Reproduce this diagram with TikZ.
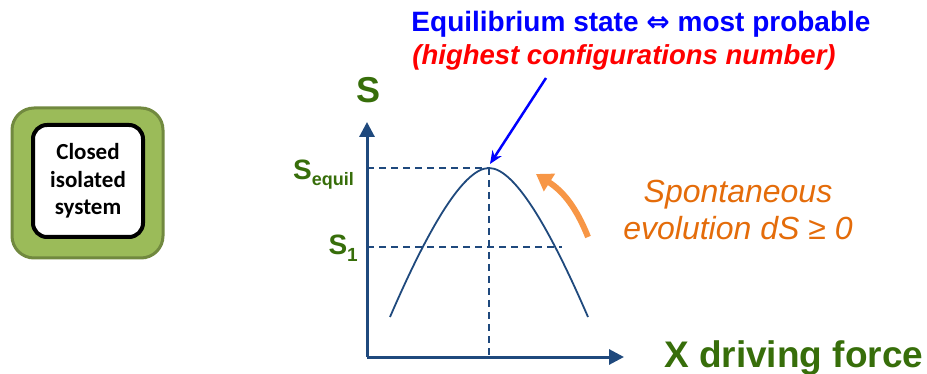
\documentclass[tikz,border=0pt]{standalone}
\usepackage{fontspec}
\setmainfont{Liberation Sans}
\newfontfamily\carlito{Carlito}
\newfontfamily\dejavu{DejaVu Sans}
\usetikzlibrary{arrows.meta}
\definecolor{axisblue}{RGB}{31,73,125}
\definecolor{sgreen}{RGB}{55,110,10}
\definecolor{boxgreen}{RGB}{155,187,89}
\definecolor{boxdark}{RGB}{113,137,63}
\definecolor{orangetxt}{RGB}{228,108,10}
\definecolor{orangearr}{RGB}{247,150,70}
\definecolor{pureblue}{RGB}{0,0,255}
\definecolor{purered}{RGB}{255,0,0}
\tikzset{
  axisline/.style={draw=axisblue, line width=3pt, -{Triangle[length=15pt,width=15pt]}},
  guide/.style={draw=axisblue, line width=1.6pt, dash pattern=on 7pt off 5pt},
  curveline/.style={draw=axisblue, line width=1.8pt},
  greenlbl/.style={text=sgreen, font=\bfseries, inner sep=0pt},
}
\begin{document}
\begin{tikzpicture}[x=1pt,y=-1pt]
\useasboundingbox (0,0) rectangle (927,374);
% closed system box
\node[draw=boxdark, fill=boxgreen, line width=3pt, rounded corners=22pt,
      minimum width=151pt, minimum height=150pt] (outer) at (87.5,183) {};
\node[draw=black, fill=white, line width=4pt, rounded corners=14pt,
      minimum width=110pt, minimum height=112pt, align=center,
      font=\carlito\bfseries\fontsize{23}{27.5}\selectfont] (inner) at (88,181)
      {Closed\\isolated\\system};
% axes
\coordinate (O) at (367,357);
\coordinate (ytip) at (367,122);
\coordinate (xtip) at (624,357);
\draw[axisline] (O) -- (ytip);
\draw[axisline] (O) -- (xtip);
% key points
\coordinate (peak) at (489,168);
\coordinate (eqL) at (367,168);
\coordinate (s1L) at (367,247);
\coordinate (s1R) at (562,247);
\coordinate (peakB) at (489,357);
\coordinate (cL) at (390,317);
\coordinate (cR) at (588,317);
\draw[guide] (eqL) -- (peak);
\draw[guide] (s1L) -- (s1R);
\draw[guide] (peak) -- (peakB);
\draw[curveline] (cL) .. controls (425,236) and (462,168) .. (peak)
                 .. controls (516,168) and (553,236) .. (cR);
% axis labels
\node[greenlbl, font=\bfseries\fontsize{36}{36}\selectfont, anchor=base] (Slab) at (369,103) {S};
\node[greenlbl, font=\bfseries\fontsize{28}{28}\selectfont, anchor=base east] (Seq) at (354,180)
  {S\raisebox{-6pt}{\fontsize{18}{18}\selectfont equil}};
\node[greenlbl, font=\bfseries\fontsize{28}{28}\selectfont, anchor=base east] (S1) at (358,255)
  {S\raisebox{-6pt}{\fontsize{19}{19}\selectfont 1}};
\node[greenlbl, font=\bfseries\fontsize{37}{37}\selectfont, anchor=base west] (xlab) at (664,367)
  {X driving force};
% title
\node[text=pureblue, font=\bfseries\fontsize{28}{28}\selectfont, anchor=base, inner sep=0pt] (t1) at (641,32)
  {Equilibrium state {\dejavu\bfseries ⇔} most probable};
\node[text=purered, font=\bfseries\itshape\fontsize{27.5}{27.5}\selectfont, anchor=base, inner sep=0pt] (t2) at (624,65)
  {(highest configurations number)};
\coordinate (bstart) at (546,78);
\coordinate (bend) at (490,164);
\draw[pureblue, line width=2.5pt, -{Stealth[length=13pt,width=11pt]}] (bstart) -- (bend);
% spontaneous evolution
\coordinate (ostart) at (588,237);
\coordinate (oend) at (536,174);
\draw[orangearr, line width=6pt, -{Triangle[length=16pt,width=20pt]}] (ostart) to[bend right=18] (oend);
\node[text=orangetxt, font=\itshape\fontsize{32}{32}\selectfont, anchor=base, inner sep=0pt] (sp1) at (738,203)
  {Spontaneous};
\node[text=orangetxt, font=\itshape\fontsize{32}{32}\selectfont, anchor=base, inner sep=0pt] (sp2) at (738,240)
  {evolution dS ≥ 0};
\end{tikzpicture}
\end{document}
